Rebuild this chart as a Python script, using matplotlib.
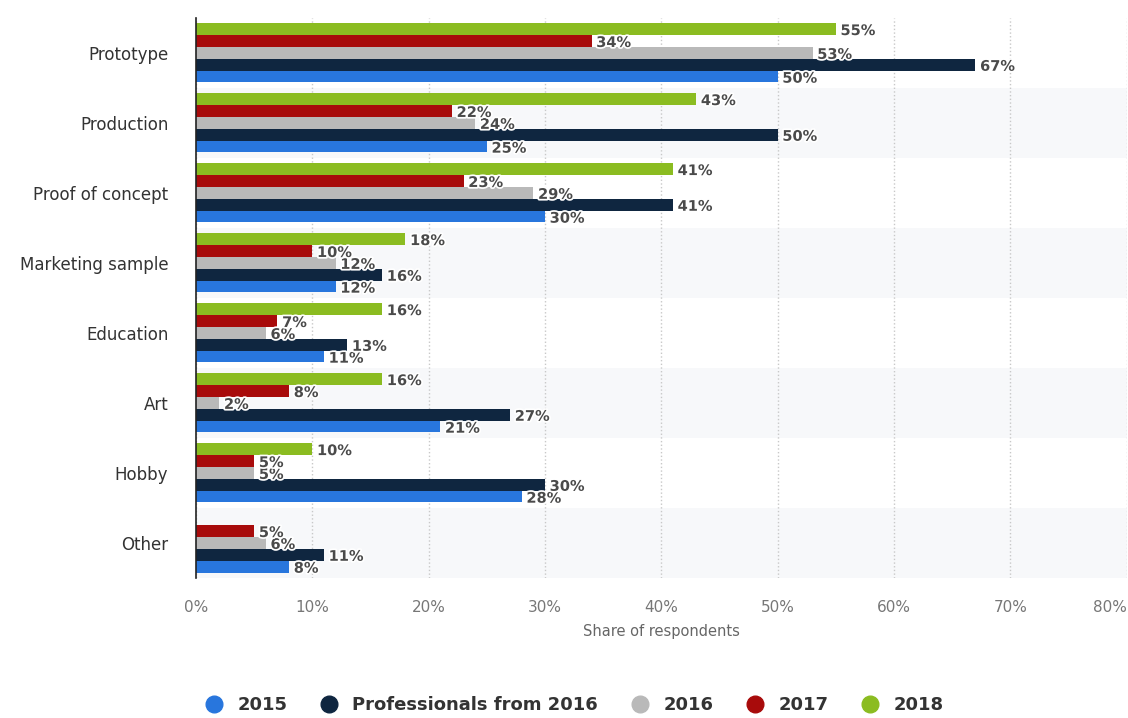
import numpy as np
import matplotlib
matplotlib.use("Agg")
import matplotlib.pyplot as plt
import matplotlib.patheffects as pe
from matplotlib.lines import Line2D

categories = ["Prototype", "Production", "Proof of concept", "Marketing sample",
              "Education", "Art", "Hobby", "Other"]
series_names = ["2015", "Professionals from 2016", "2016", "2017", "2018"]
v2015 = [50, 25, 30, 12, 11, 21, 28, 8]
vprof = [67, 50, 41, 16, 13, 27, 30, 11]
v2016 = [53, 24, 29, 12, 6, 2, 5, 6]
v2017 = [34, 22, 23, 10, 7, 8, 5, 5]
v2018 = [55, 43, 41, 18, 16, 16, 10, None]
values = [v2015, vprof, v2016, v2017, v2018]
colors = ["#2876dd", "#0f2640", "#b9b9b9", "#a80b0b", "#8bbc21"]

fig = plt.figure(figsize=(11.28, 7.18), dpi=100)
ax = fig.add_axes([0.1738, 0.195, 0.825, 0.78])

n = len(categories)
ypos = np.arange(n)  # 0 = Prototype at top (inverted)
bh = 0.17
offsets = [2, 1, 0, -1, -2]  # 2015 bottom ... 2018 top

# alternating background bands
for i in range(n):
    if i % 2 == 1:
        ax.axhspan(i - 0.5, i + 0.5, color="#f7f8fa", zorder=0, lw=0)

outline = [pe.withStroke(linewidth=2.5, foreground="white")]
for vals, name, col, off in zip(values, series_names, colors, offsets):
    for i, v in enumerate(vals):
        if v is None:
            continue
        y = i + off * bh
        ax.barh(y, v, height=bh * 0.96, color=col, zorder=2)
        ax.text(v + 0.4, y + 0.02, f"{v}%", va="center", ha="left",
                fontsize=10.5, fontweight="bold", color="#4a4a4a",
                path_effects=outline, zorder=3)

ax.set_ylim(n - 0.5, -0.5)
ax.set_xlim(0, 80)
ax.set_yticks(ypos)
ax.set_yticklabels(categories, fontsize=12, color="#333333")
ax.set_xticks(range(0, 81, 10))
ax.set_xticklabels([f"{t}%" for t in range(0, 81, 10)], fontsize=11, color="#777777")
ax.get_xticklabels()[-1].set_ha("right")
ax.tick_params(axis="both", length=0)
ax.tick_params(axis="x", pad=16)
ax.tick_params(axis="y", pad=20)
ax.set_xlabel("Share of respondents", fontsize=10.5, color="#666666", labelpad=6)

ax.grid(True, axis="x", linestyle=":", color="#c8c8c8", linewidth=1, zorder=1)
ax.set_axisbelow(True)
for s in ["top", "right", "bottom"]:
    ax.spines[s].set_visible(False)
ax.spines["left"].set_color("#222222")
ax.spines["left"].set_linewidth(1.2)
ax.spines["left"].set_zorder(4)

handles = [Line2D([0], [0], marker="o", linestyle="", markersize=12,
                  markerfacecolor=c, markeredgecolor=c) for c in colors]
leg = fig.legend(handles, series_names, loc="lower center", ncol=5,
                 bbox_to_anchor=(0.505, -0.017), frameon=False,
                 prop={"weight": "bold", "size": 13},
                 handletextpad=0.3, columnspacing=1.3)
for t in leg.get_texts():
    t.set_color("#333333")

fig.savefig("out.png", dpi=100)
